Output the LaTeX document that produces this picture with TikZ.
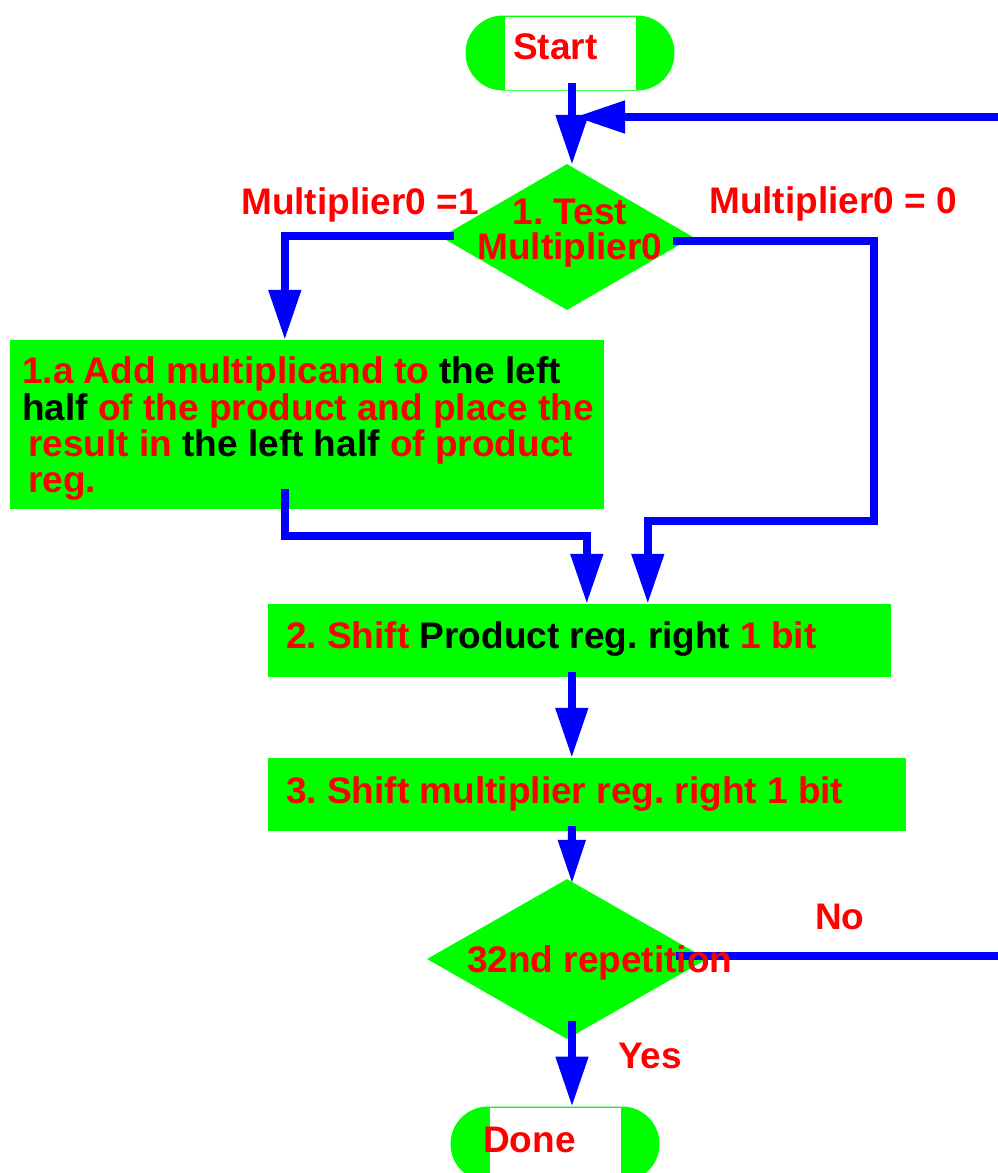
\documentclass[tikz,border=0pt]{standalone}
\usepackage{fontspec}
\setmainfont{Liberation Sans}
\usetikzlibrary{arrows.meta,calc,shapes.geometric}

\definecolor{grn}{RGB}{0,255,0}
\definecolor{rd}{RGB}{255,0,0}
\definecolor{bl}{RGB}{0,0,255}

\begin{document}
\frenchspacing
\begin{tikzpicture}[x=1pt,y=-1pt,
  txt/.style={inner sep=0pt, anchor=base west, text=rd,
    font=\bfseries\fontsize{37}{37}\selectfont},
  ctxt/.style={txt, anchor=base},
  terminal/.style={fill=grn, draw=grn, line width=1pt, rounded corners=37pt,
    minimum width=208pt, minimum height=74pt, inner sep=0pt},
  stepbox/.style={fill=grn, draw=none, inner sep=0pt},
  decision/.style={diamond, fill=grn, draw=none, inner sep=0pt},
  flow/.style={bl, line width=8pt, -{Triangle[length=50pt,width=31pt]}},
  flowsmall/.style={flow, -{Triangle[length=44pt,width=26pt]}}
]
\clip (0,0) rectangle (998,1173);
\fill[white] (0,0) rectangle (998,1173);

% ---- shapes ----
\node[terminal] (start) at (570,53) {};
\fill[white] ($(start.north west)+(39,1)$) rectangle ($(start.south east)+(-39,-1)$);

\node[decision, minimum width=252pt, minimum height=146pt] (test) at (567,237) {};

\node[stepbox, minimum width=594pt, minimum height=169pt] (add) at (307,424.5) {};
\node[stepbox, minimum width=623pt, minimum height=73pt] (shiftp) at (579.5,640.5) {};
\node[stepbox, minimum width=638pt, minimum height=73pt] (shiftm) at (587,794.5) {};

\node[decision, minimum width=280pt, minimum height=160pt] (rep) at (567,959) {};

\node[terminal] (done) at (555,1144) {};
\fill[white] ($(done.north west)+(39,1)$) rectangle ($(done.south east)+(-39,-1)$);

% ---- connectors ----
\coordinate (merge) at (575,117);
\coordinate (farright) at (1030,117);

\draw[flow] ($(start.south)+(2,-8)$) -- ($(test.north)+(5,1)$);
\draw[flow] ($(rep.east)+(-31,-3)$) -| (farright) -- (merge);

\draw[flow] ($(test.west)+(13,-1)$) -| ($(add.north west)+(275,0)$);
\draw[flow] ($(test.east)+(-20,4)$) -- ++(201,0) -- ++(0,280)
   -| ($(shiftp.north west)+(380,0)$);
\draw[flow] ($(add.south west)+(275,-20)$) -- ++(0,47)
   -| ($(shiftp.north west)+(319,0)$);
\draw[flow] ($(shiftp.south west)+(304,-5)$) -- ($(shiftm.north west)+(304,0)$);
\draw[flowsmall] ($(shiftm.south west)+(304,-5)$) -- ($(rep.north)+(5,5)$);
\draw[flow] ($(rep.south)+(5,-18)$) -- ($(done.north)+(17,0)$);

% ---- texts ----
\node[txt] (tstart) at (513,59) {Start};
\node[txt] (tdone) at (483,1152) {Done};

\node[ctxt] (ttest1) at (570,224) {1. Test};
\node[ctxt] (ttest2) at (570,259) {Multiplier0};
\node[txt] (tone) at (241,214) {Multiplier0 =1};
\node[txt] (tzero) at (709,213) {Multiplier0 = 0};

\node[txt] (ta1) at (22,383) {1.a Add multiplicand to \textcolor{black}{the left}};
\node[txt] (ta2) at (22,420) {\textcolor{black}{half} of the product and place the};
\node[txt] (ta3) at (28,456) {result in \textcolor{black}{the left half} of product};
\node[txt] (ta4) at (28,492) {reg.};

\node[txt] (tp) at (286,648) {2. Shift \textcolor{black}{Product reg. right} 1 bit};
\node[txt] (tm) at (286,803) {3. Shift multiplier reg. right 1 bit};

\node[txt] (trep) at (467,972) {32nd repetition};
\node[txt] (tno) at (815,929) {No};
\node[txt] (tyes) at (618,1068) {Yes};
\end{tikzpicture}
\end{document}
